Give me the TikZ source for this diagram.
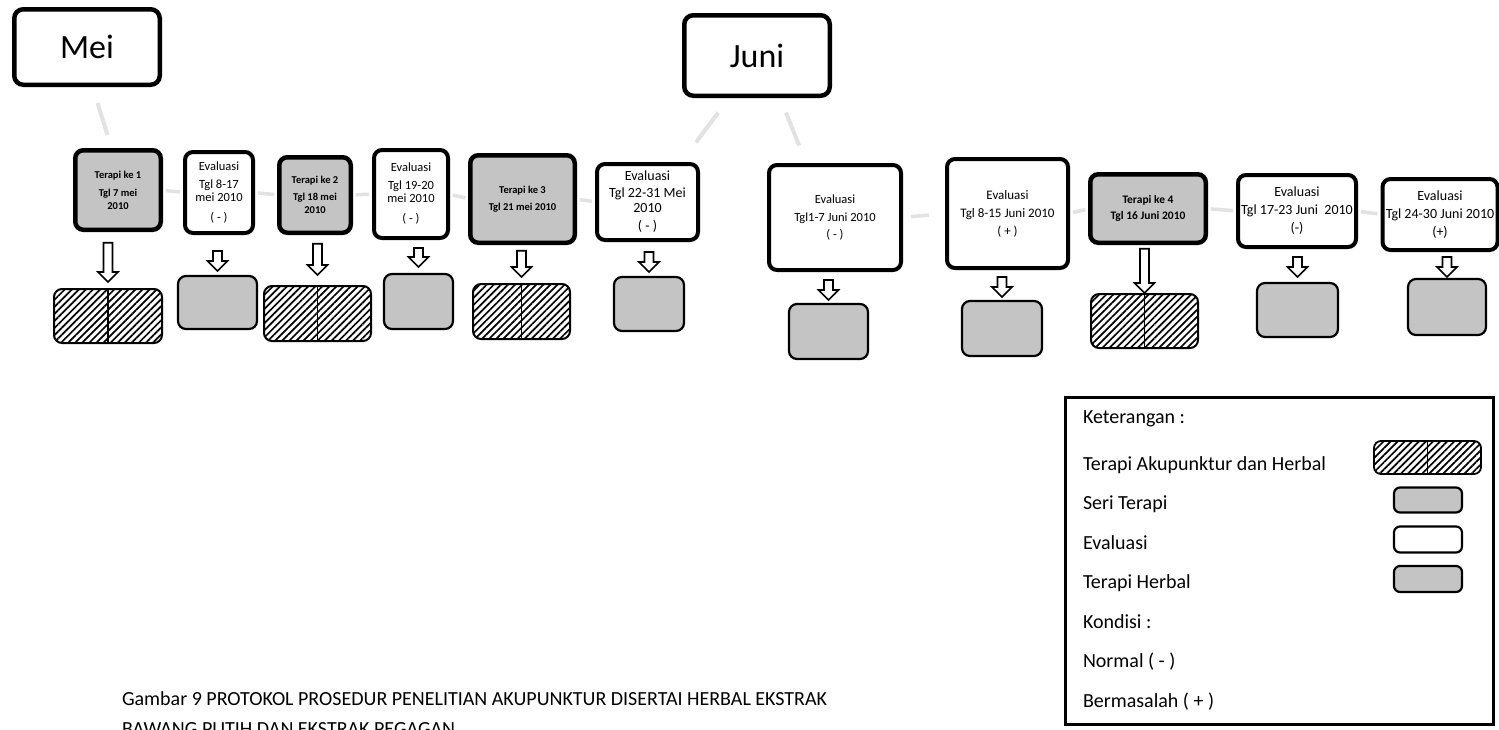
\documentclass[tikz,border=0pt]{standalone}
\usepackage{fontspec}
\setmainfont{Carlito}
\usetikzlibrary{calc,patterns.meta}
\definecolor{boxgray}{RGB}{196,196,196}
\definecolor{faint}{RGB}{226,226,226}
\newcommand\blockarrow[4]{%
  \draw[barr] let \p1=(#1.south), \p2=(#2.north) in
    (\x2-4.5pt,\y1-#3pt) -- (\x2+4.5pt,\y1-#3pt) -- (\x2+4.5pt,\y2+#4pt+10pt)
    -- (\x2+10pt,\y2+#4pt+10pt) -- (\x2,\y2+#4pt) -- (\x2-10pt,\y2+#4pt+10pt)
    -- (\x2-4.5pt,\y2+#4pt+10pt) -- cycle;}
\tikzset{
  every node/.style={inner sep=0pt, outer sep=0pt},
  month/.style={draw, line width=4.5pt, rounded corners=9pt, fill=white, font=\fontsize{34}{40}\selectfont},
  ther/.style={draw, line width=4.5pt, rounded corners=8pt, fill=boxgray, align=center},
  evalb/.style={draw, line width=4pt, rounded corners=8pt, fill=white, align=center},
  hatchb/.style={draw, line width=2pt, rounded corners=8pt, pattern={Lines[angle=45,distance=5pt,line width=1.7pt]}},
  herb/.style={draw, line width=2.2pt, rounded corners=8pt, fill=boxgray},
  whiteb/.style={draw, line width=2.2pt, rounded corners=7pt, fill=white},
  link/.style={draw=faint, line width=3.5pt},
  barr/.style={draw, fill=white, line width=1.6pt},
  legtext/.style={anchor=base west, font=\fontsize{20}{24}\selectfont},
  divider/.style={line width=1.5pt},
}
\begin{document}
\begin{tikzpicture}[x=1pt,y=-1pt]
\fill[white] (0,0) rectangle (1499,729);
\useasboundingbox (0,0) rectangle (1499,729);

% month boxes
\node[month, minimum width=145.5, minimum height=75.5] (mei) at (87,47) {Mei};
\node[month, minimum width=145.5, minimum height=80.5] (juni) at (757,55.5) {Juni};

% top row
\node[ther, minimum width=85.5, minimum height=79.5, font=\bfseries\fontsize{10.5}{13}\selectfont] (t1) at (118,190) {Terapi ke 1\\[5pt]Tgl 7 mei\\2010};
\node[evalb, minimum width=68, minimum height=81, font=\fontsize{12.5}{13}\selectfont] (t2) at (219,192.5) {Evaluasi\\[5pt]Tgl 8-17\\mei 2010\\[7pt]( - )};
\node[ther, minimum width=71.5, minimum height=75.5, font=\bfseries\fontsize{10.5}{13}\selectfont] (t3) at (315,195) {Terapi ke 2\\[4pt]Tgl 18 mei\\2010};
\node[evalb, minimum width=74, minimum height=88, font=\fontsize{12.5}{13}\selectfont] (t4) at (411,194) {Evaluasi\\[5pt]Tgl 19-20\\mei 2010\\[7pt]( - )};
\node[ther, minimum width=104.5, minimum height=87.5, font=\bfseries\fontsize{10.5}{13}\selectfont] (t5) at (522.5,199) {Terapi ke 3\\[4pt]Tgl 21 mei 2010};
\node[evalb, minimum width=101, minimum height=76, font=\fontsize{14}{15}\selectfont] (t6) at (647.5,202) {Evaluasi\\[2pt]Tgl 22-31 Mei\\2010\\[3pt]( - )};
\node[evalb, minimum width=132, minimum height=105, font=\fontsize{12.5}{15}\selectfont] (t7) at (835,217.5) {Evaluasi\\[3pt]Tgl1-7 Juni 2010\\[2pt]( - )};
\node[evalb, minimum width=121, minimum height=109, font=\fontsize{13}{16}\selectfont] (t8) at (1007.5,213.5) {Evaluasi\\[2pt]Tgl 8-15 Juni 2010\\[2pt]( + )};
\node[ther, minimum width=115.5, minimum height=68.5, font=\bfseries\fontsize{11.5}{14}\selectfont] (t9) at (1148,208.5) {Terapi ke 4\\[2pt]Tgl 16 Juni 2010};
\node[evalb, minimum width=118, minimum height=72, font=\fontsize{14}{17}\selectfont] (t10) at (1297,211) {Evaluasi\\[1pt]Tgl 17-23 Juni\ \ 2010\\[1pt](-)};
\node[evalb, minimum width=115, minimum height=71, font=\fontsize{14}{17}\selectfont] (t11) at (1440,214.5) {Evaluasi\\[1pt]Tgl 24-30 Juni 2010\\[1pt](+)};

% faint connectors
\draw[link, line width=4pt, shorten <=19pt, shorten >=16pt] ($(mei.south west)!0.533!(mei.south east)$) -- ($(t1.north west)!0.433!(t1.north east)$);
\draw[link, line width=4pt, shorten <=21pt, shorten >=27pt] ($(juni.south west)!0.32!(juni.south east)$) -- ($(t6.north west)!0.82!(t6.north east)$);
\draw[link, line width=4pt, shorten <=18pt, shorten >=21pt] ($(juni.south west)!0.653!(juni.south east)$) -- ($(t7.north west)!0.287!(t7.north east)$);
\foreach \a/\b in {t1/t2,t2/t3,t3/t4,t4/t5,t5/t6,t8/t9,t9/t10,t10/t11}
  \draw[link, shorten <=5pt, shorten >=5pt] (\a.east) -- (\b.west);
\draw[link, shorten <=10pt, shorten >=18pt] (t7.east) -- (t8.west);

% bottom row
\node[hatchb, minimum width=108, minimum height=54] (b1) at (108,316) {};
\node[herb, minimum width=79, minimum height=53] (b2) at (217.5,302.5) {};
\node[hatchb, minimum width=107, minimum height=55] (b3) at (317.5,313.5) {};
\node[herb, minimum width=69, minimum height=55] (b4) at (418.5,301.5) {};
\node[hatchb, minimum width=97, minimum height=55] (b5) at (521.5,311.5) {};
\node[herb, minimum width=70, minimum height=54] (b6) at (649,304) {};
\node[herb, minimum width=79, minimum height=55] (b7) at (828.5,331.5) {};
\node[herb, minimum width=80, minimum height=55] (b8) at (1002,328.5) {};
\node[hatchb, minimum width=107, minimum height=54] (b9) at (1144.5,321) {};
\node[herb, minimum width=81, minimum height=54] (b10) at (1297.5,310) {};
\node[herb, minimum width=78, minimum height=56] (b11) at (1447,307) {};
\foreach \b in {b1,b3,b5,b9}
  \draw[divider] (\b.north) -- (\b.south);

% block arrows
\blockarrow{t1}{b1}{13}{7}
\blockarrow{t2}{b2}{18}{5}
\blockarrow{t3}{b3}{11}{11}
\blockarrow{t4}{b4}{10}{7}
\blockarrow{t5}{b5}{8}{7}
\blockarrow{t6}{b6}{12}{5}
\blockarrow{t7}{b7}{10}{4}
\blockarrow{t8}{b8}{9}{4}
\blockarrow{t9}{b9}{6}{1}
\blockarrow{t10}{b10}{10}{6}
\blockarrow{t11}{b11}{7}{2}

% legend
\node[draw, line width=2.5pt, minimum width=428, minimum height=327] (legend) at (1279.5,561) {};
\node[legtext] (k0) at (1083,423) {Keterangan :};
\node[legtext] (k1) at (1083,470) {Terapi Akupunktur dan Herbal};
\node[legtext] (k2) at (1083,509.5) {Seri Terapi};
\node[legtext] (k3) at (1083,549) {Evaluasi};
\node[legtext] (k4) at (1083,588.5) {Terapi Herbal};
\node[legtext] (k5) at (1083,628) {Kondisi :};
\node[legtext] (k6) at (1083,667.5) {Normal ( - )};
\node[legtext] (k7) at (1083,707) {Bermasalah ( + )};
\node[hatchb, line width=1.8pt, rounded corners=7pt, minimum width=107, minimum height=33] (s1) at (1427.5,457.5) {};
\draw[divider] (s1.north) -- (s1.south);
\node[herb, rounded corners=6pt, minimum width=68, minimum height=25] (s2) at (1428,500) {};
\node[whiteb, rounded corners=6pt, minimum width=68, minimum height=26] (s3) at (1428,539.5) {};
\node[herb, rounded corners=6pt, minimum width=68, minimum height=26] (s4) at (1428,579) {};

% caption
\node[legtext] (cap1) at (122,705) {Gambar 9 PROTOKOL PROSEDUR PENELITIAN AKUPUNKTUR DISERTAI HERBAL EKSTRAK};
\node[legtext] (cap2) at (122,735) {BAWANG PUTIH DAN EKSTRAK PEGAGAN};
\end{tikzpicture}
\end{document}
